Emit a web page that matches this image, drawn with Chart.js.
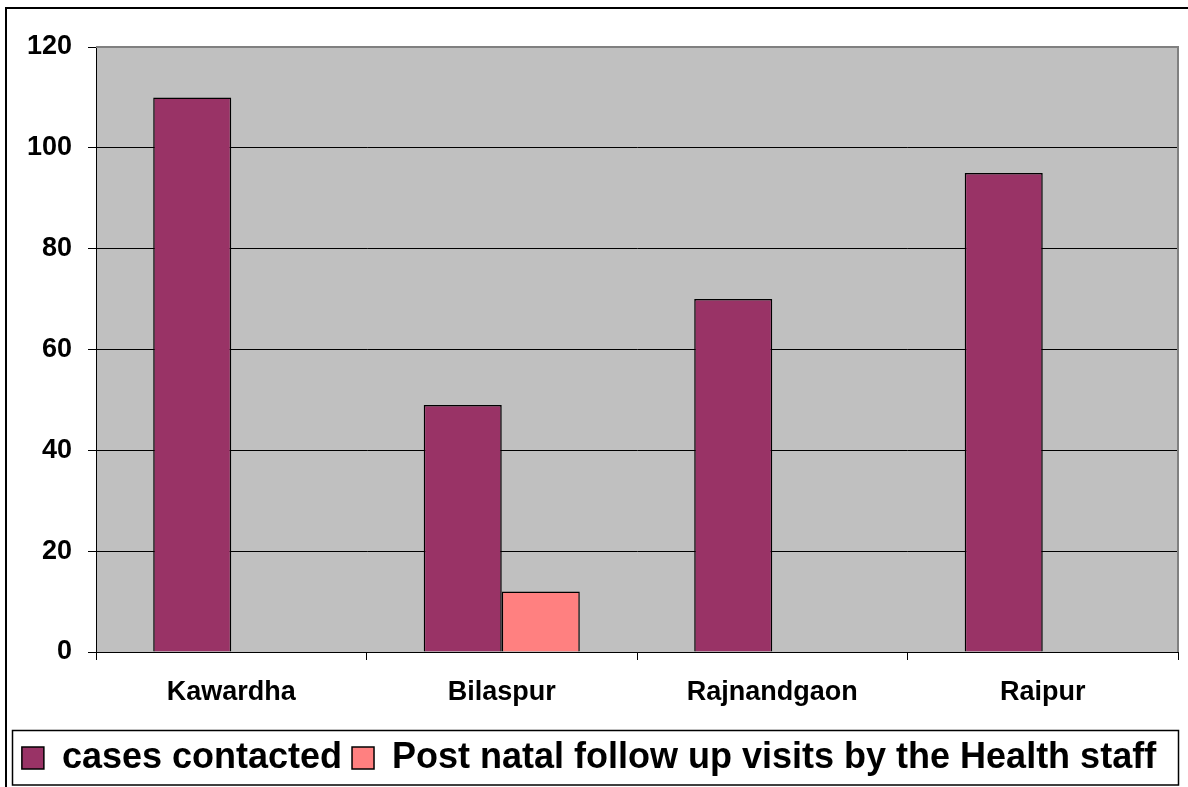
<!DOCTYPE html>
<html>
<head>
<meta charset="utf-8">
<script src="https://cdn.jsdelivr.net/npm/chart.js@4"></script>
<style>
html,body{margin:0;padding:0;background:#fff;}
#wrap{width:1188px;height:787px;}
</style>
</head>
<body>
<div id="wrap"><canvas id="c" width="1188" height="787"></canvas></div>
<script>
const categories = ["Kawardha", "Bilaspur", "Rajnandgaon", "Raipur"];
const casesContacted = [110, 49, 70, 95];
const postNatalVisits = [null, 12, null, null];
const seriesNames = ["cases contacted", "Post natal follow up visits by the Health staff"];
const yTicks = [0, 20, 40, 60, 80, 100, 120];

const FONT = "'Liberation Sans', Arial, sans-serif";

const plotBg = {
  id: 'plotBg',
  beforeDraw(chart) {
    const {ctx, chartArea: a} = chart;
    ctx.save();
    ctx.fillStyle = '#fff';
    ctx.fillRect(0, 0, chart.width, chart.height);
    ctx.fillStyle = '#C0C0C0';
    ctx.fillRect(a.left, a.top, a.right - a.left, a.bottom - a.top);
    ctx.restore();
  },
  afterDatasetsDraw(chart) {
    const {ctx, chartArea: a} = chart;
    ctx.save();
    ctx.strokeStyle = '#808080';
    ctx.lineWidth = 2;
    ctx.beginPath();
    ctx.moveTo(a.left, a.top);
    ctx.lineTo(a.right, a.top);
    ctx.lineTo(a.right, a.bottom);
    ctx.stroke();
    ctx.restore();
  },
  afterDraw(chart) {
    const {ctx} = chart;
    const lg = chart.legend;
    ctx.save();
    ctx.strokeStyle = '#000';
    ctx.lineWidth = 2;
    ctx.beginPath();
    ctx.moveTo(6, 787);
    ctx.lineTo(6, 8);
    ctx.lineTo(1188, 8);
    ctx.stroke();
    if (lg && lg.legendHitBoxes && lg.legendHitBoxes.length) {
      const hb = lg.legendHitBoxes;
      let l = Infinity, r = -Infinity;
      hb.forEach(h => { l = Math.min(l, h.left); r = Math.max(r, h.left + h.width); });
      ctx.lineWidth = 1.5;
      const top = Math.round(lg.top) + 0.5;
      ctx.strokeRect(Math.round(l - 10) + 0.5, top, Math.round(r - l + 32), 785 - top);
    }
    ctx.restore();
  }
};

new Chart(document.getElementById('c'), {
  type: 'bar',
  data: {
    labels: categories,
    datasets: [
      { label: seriesNames[0], data: casesContacted, backgroundColor: '#993366', borderColor: '#000', borderWidth: 1.5 },
      { label: seriesNames[1], data: postNatalVisits, backgroundColor: '#FF8080', borderColor: '#000', borderWidth: 1.5 }
    ]
  },
  options: {
    responsive: false,
    animation: false,
    devicePixelRatio: 1,
    categoryPercentage: 0.577,
    barPercentage: 1,
    layout: { padding: { left: 0, right: 10, top: 47, bottom: 1 } },
    plugins: {
      tooltip: { enabled: false },
      legend: {
        position: 'bottom',
        labels: {
          color: '#000',
          font: { family: FONT, size: 36, weight: 'bold' },
          boxWidth: 22,
          boxHeight: 22,
          padding: 10,
          generateLabels(chart) {
            return chart.data.datasets.map((d, i) => ({
              text: d.label,
              fillStyle: d.backgroundColor,
              strokeStyle: '#000',
              lineWidth: 1.5,
              hidden: false,
              datasetIndex: i,
              fontColor: '#000'
            }));
          }
        }
      }
    },
    scales: {
      x: {
        offset: true,
        grid: { offset: true, drawOnChartArea: false, color: '#000', tickLength: 8, lineWidth: 1 },
        border: { color: '#000', width: 1 },
        ticks: { color: '#000', font: { family: FONT, size: 27, weight: 'bold' }, padding: 16, maxRotation: 0 },
        afterFit(s) { s.height = 78; }
      },
      y: {
        min: 0, max: 120,
        afterBuildTicks(s) { s.ticks = yTicks.map(v => ({ value: v })); },
        grid: {
          color: ctx => (ctx.tick && ctx.tick.value === 120) ? '#808080' : '#000',
          tickColor: '#000',
          tickLength: 8, lineWidth: 1
        },
        border: { color: '#000', width: 1 },
        ticks: { color: '#000', font: { family: FONT, size: 27, weight: 'bold' }, padding: 16 },
        afterFit(s) { s.width = 96; }
      }
    }
  },
  plugins: [plotBg]
});
</script>
</body>
</html>
